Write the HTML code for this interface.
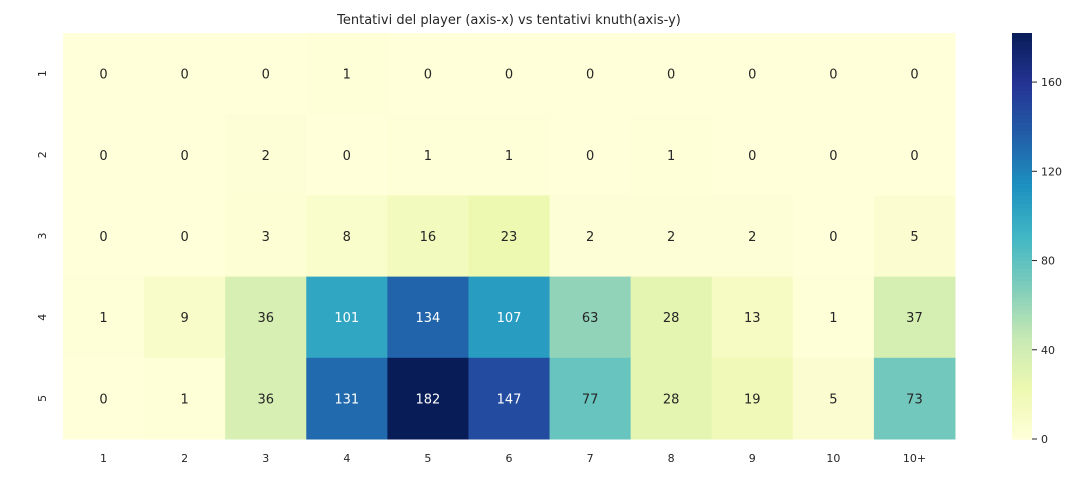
<!DOCTYPE html>
<html><head><meta charset="utf-8"><style>
body{margin:0;background:#fff;font-family:"Liberation Sans","DejaVu Sans",sans-serif;}
svg text{font-family:"DejaVu Sans","Liberation Sans",sans-serif;}
</style></head><body>
<svg id="chart" width="1083" height="478" viewBox="0 0 1083 478">
<defs><linearGradient id="cbgrad" x1="0" y1="1" x2="0" y2="0"></linearGradient></defs>
<text x="509" y="24" text-anchor="middle" font-size="13" fill="#262626">Tentativi del player (axis-x) vs tentativi knuth(axis-y)</text>
<g id="cells"></g><g id="xt"></g><g id="yt"></g><g id="cb"></g>
</svg>
<script>
const xLabels=["1","2","3","4","5","6","7","8","9","10","10+"];
const yLabels=["1","2","3","4","5"];
const row1=[0,0,0,1,0,0,0,0,0,0,0];
const row2=[0,0,2,0,1,1,0,1,0,0,0];
const row3=[0,0,3,8,16,23,2,2,2,0,5];
const row4=[1,9,36,101,134,107,63,28,13,1,37];
const row5=[0,1,36,131,182,147,77,28,19,5,73];
const cbTicks=[0,40,80,120,160];
const vmax=182;
const rows=[row1,row2,row3,row4,row5];
const NS="http://www.w3.org/2000/svg";
const X0=63,X1=955,Y0=33,Y1=439;
const cw=(X1-X0)/xLabels.length, ch=(Y1-Y0)/yLabels.length;
const stops=["#ffffd9","#edf8b1","#c7e9b4","#7fcdbb","#41b6c4","#1d91c0","#225ea8","#253494","#081d58"];
function hex(h){return [1,3,5].map(i=>parseInt(h.substr(i,2),16));}
function color(v){let t=Math.max(0,Math.min(1,v/vmax))*(stops.length-1);let i=Math.min(Math.floor(t),stops.length-2),f=t-i;
const a=hex(stops[i]),b=hex(stops[i+1]);return "rgb("+a.map((c,k)=>Math.round(c+(b[k]-c)*f)).join(",")+")";}
function mk(tag,attrs,parent){const e=document.createElementNS(NS,tag);for(const k in attrs)e.setAttribute(k,attrs[k]);parent.appendChild(e);return e;}
const cells=document.getElementById('cells');
rows.forEach((r,ri)=>r.forEach((v,ci)=>{
 const rc=mk('rect',{x:X0+ci*cw,y:Y0+ri*ch,width:cw+0.5,height:ch+0.5,fill:color(v)},cells);
 
 
 const t=mk('text',{x:X0+(ci+0.5)*cw,y:Y0+(ri+0.5)*ch+5,'text-anchor':'middle','font-size':'13',fill:v>90?'#fff':'#262626'},cells);
 t.textContent=v;
 
 
}));
const xt=document.getElementById('xt');
xLabels.forEach((l,i)=>{const t=mk('text',{x:X0+(i+0.5)*cw,y:462,'text-anchor':'middle','font-size':'11',fill:'#262626'},xt);t.textContent=l;
 
 });
const yt=document.getElementById('yt');
yLabels.forEach((l,i)=>{const cy=Y0+(i+0.5)*ch;const t=mk('text',{x:0,y:0,'text-anchor':'middle','font-size':'11',fill:'#262626',transform:'translate(46,'+cy+') rotate(-90)'},yt);t.textContent=l;
 
 });
const cb=document.getElementById('cb');
const CX=1012,CW=20;
const N=100;
for(let i=0;i<N;i++){const v0=vmax*i/N;const y=Y1-(i+1)*(Y1-Y0)/N;
 const r=mk('rect',{x:CX,y:y,width:CW,height:(Y1-Y0)/N+0.6,fill:color(v0+vmax/N/2)},cb);
 
 }
cbTicks.forEach(v=>{const y=Y1-v/vmax*(Y1-Y0);
 const ln=mk('line',{x1:CX+CW,x2:CX+CW+5,y1:y,y2:y,stroke:'#262626','stroke-width':1},cb);
 
 
 const t=mk('text',{x:CX+CW+9,y:y+4,'font-size':'11',fill:'#262626'},cb);t.textContent=v;
 
 });
</script>
</body></html>
